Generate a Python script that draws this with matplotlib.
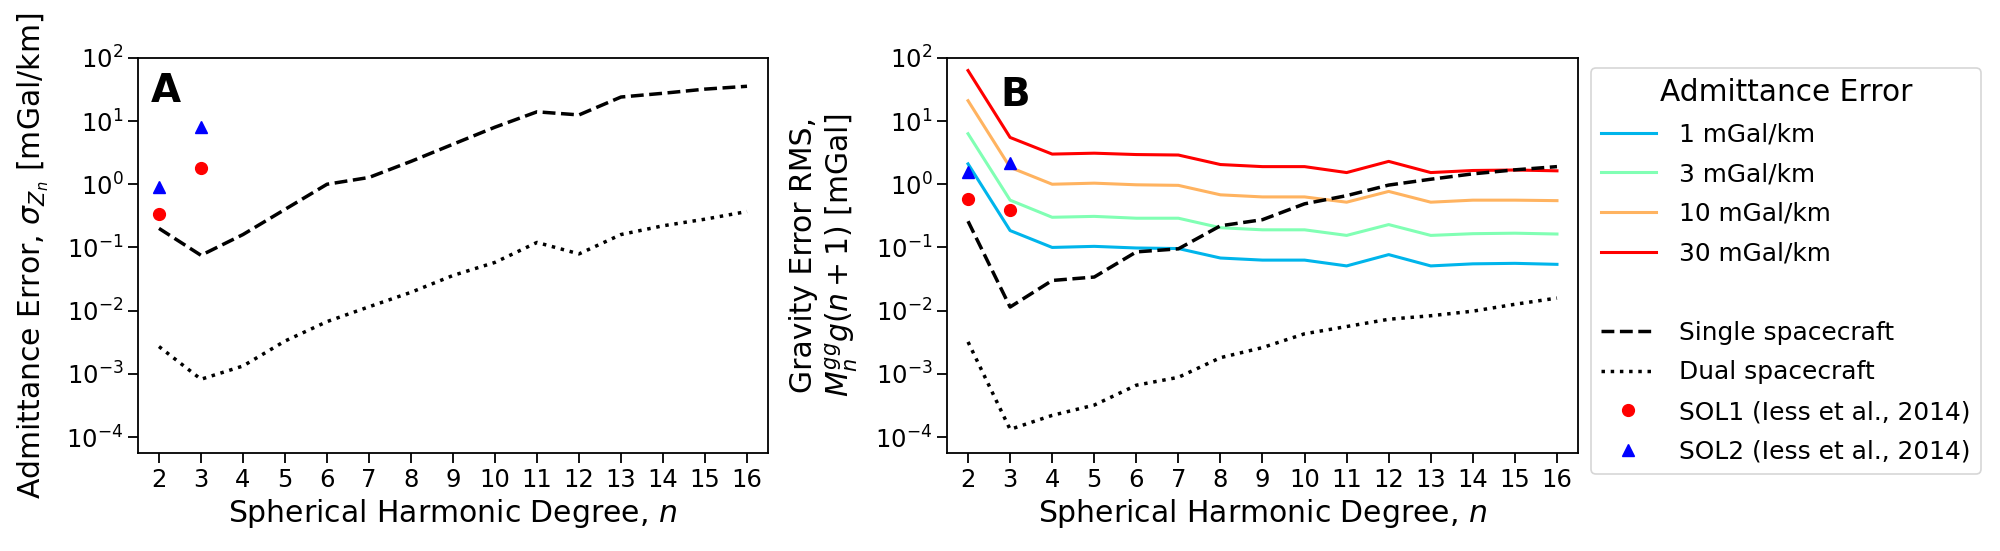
#!/usr/bin/env python3
"""Admittance error (A) and gravity error RMS (B) versus spherical harmonic degree."""

import matplotlib
matplotlib.use("Agg")
import matplotlib.pyplot as plt
from matplotlib.lines import Line2D
import numpy as np

degrees = list(range(2, 17))

# panel A: admittance error [mGal/km]
adm_single = [0.2, 0.075, 0.16, 0.40, 1.0, 1.28, 2.3, 4.3, 8.0, 14.0, 12.5, 24.0, 27.5, 32.0, 35.5]
adm_dual = [2.7e-3, 8.2e-4, 1.33e-3, 3.3e-3, 6.7e-3, 1.15e-2, 1.95e-2, 3.6e-2, 5.8e-2,
            0.12, 0.079, 0.16, 0.22, 0.28, 0.37]
sol_degrees = [2, 3]
adm_sol1 = [0.34, 1.84]
adm_sol2 = [0.92, 8.0]

# panel B: gravity error RMS [mGal]
grav_err_labels = ["1 mGal/km", "3 mGal/km", "10 mGal/km", "30 mGal/km"]
grav_1 = [2.1, 0.185, 0.100, 0.104, 0.098, 0.096, 0.068, 0.063, 0.063, 0.051, 0.077, 0.051, 0.055, 0.056, 0.054]
grav_3 = [6.3, 0.56, 0.30, 0.31, 0.29, 0.29, 0.205, 0.19, 0.19, 0.155, 0.23, 0.155, 0.165, 0.168, 0.163]
grav_10 = [21.0, 1.85, 1.0, 1.04, 0.98, 0.96, 0.68, 0.63, 0.63, 0.52, 0.77, 0.52, 0.56, 0.56, 0.55]
grav_30 = [63.0, 5.5, 3.0, 3.1, 2.95, 2.9, 2.05, 1.9, 1.9, 1.53, 2.3, 1.53, 1.65, 1.68, 1.63]
grav_single = [0.26, 0.0114, 0.030, 0.034, 0.085, 0.095, 0.22, 0.275, 0.49, 0.66, 0.97, 1.2, 1.46, 1.69, 1.9]
grav_dual = [3.2e-3, 1.32e-4, 2.2e-4, 3.2e-4, 6.6e-4, 8.8e-4, 1.8e-3, 2.6e-3, 4.3e-3,
             5.6e-3, 7.3e-3, 8.3e-3, 9.8e-3, 1.26e-2, 1.58e-2]
grav_sol1 = [0.58, 0.39]
grav_sol2 = [1.59, 2.14]

TICK_FS = 17.5
LABEL_FS = 21.5
LW = 2.2


def style_axis(ax):
    ax.set_yscale("log")
    ax.set_ylim(5.6e-5, 100)
    ax.set_xlim(1.5, 16.5)
    ax.set_xticks(degrees)
    ax.set_yticks([1e-4, 1e-3, 1e-2, 1e-1, 1e0, 1e1, 1e2])
    ax.minorticks_off()
    ax.tick_params(labelsize=TICK_FS, length=7, width=1.3)
    for sp in ax.spines.values():
        sp.set_linewidth(1.3)
    ax.set_xlabel("Spherical Harmonic Degree, $n$", fontsize=LABEL_FS)


def main():
    fig = plt.figure(figsize=(20, 5.51), dpi=100)
    ax_a = fig.add_axes([0.069, 0.178, 0.315, 0.717])
    ax_b = fig.add_axes([0.4735, 0.178, 0.3155, 0.717])

    # A
    ax_a.plot(degrees, adm_single, "k--", lw=2.5)
    ax_a.plot(degrees, adm_dual, "k:", lw=2.5)
    ax_a.plot(sol_degrees, adm_sol1, "o", color="red", ms=8.5, ls="none")
    ax_a.plot(sol_degrees, adm_sol2, "^", color="blue", ms=8.5, ls="none")
    style_axis(ax_a)
    ax_a.set_ylabel("Admittance Error, $\\sigma_{Z_n}$ [mGal/km]", fontsize=LABEL_FS, labelpad=11)
    ax_a.text(0.02, 0.965, "A", transform=ax_a.transAxes, fontsize=28,
              fontweight="bold", va="top", ha="left")

    # B
    colors = plt.cm.rainbow(np.linspace(0, 1, 5)[1:])
    handles = []
    for vals, lab, c in zip([grav_1, grav_3, grav_10, grav_30], grav_err_labels, colors):
        h, = ax_b.plot(degrees, vals, "-", color=c, lw=LW, label=lab)
        handles.append(h)
    h_single, = ax_b.plot(degrees, grav_single, "k--", lw=2.5, label="Single spacecraft")
    h_dual, = ax_b.plot(degrees, grav_dual, "k:", lw=2.5, label="Dual spacecraft")
    h_sol1, = ax_b.plot(sol_degrees, grav_sol1, "o", color="red", ms=8.5, ls="none",
                        label="SOL1 (Iess et al., 2014)")
    h_sol2, = ax_b.plot(sol_degrees, grav_sol2, "^", color="blue", ms=8.5, ls="none",
                        label="SOL2 (Iess et al., 2014)")
    style_axis(ax_b)
    ax_b.set_ylabel("Gravity Error RMS,\n$M_n^{gg}g(n+1)$ [mGal]", fontsize=LABEL_FS, labelpad=11)
    ax_b.text(0.084, 0.955, "B", transform=ax_b.transAxes, fontsize=28,
              fontweight="bold", va="top", ha="left")

    blank = Line2D([], [], color="none", label=" ")
    all_handles = handles + [blank, h_single, h_dual, h_sol1, h_sol2]
    leg = ax_b.legend(all_handles, [h.get_label() for h in all_handles],
                      loc="upper left", bbox_to_anchor=(0.7955, 0.877),
                      bbox_transform=fig.transFigure, borderaxespad=0,
                      fontsize=17.9, title="Admittance Error", title_fontsize=21.3,
                      handlelength=2.2, handletextpad=0.95, labelspacing=0.63)
    leg.get_frame().set_linewidth(1.2)

    fig.savefig("out.png", dpi=100)
    plt.close(fig)


if __name__ == "__main__":
    main()
